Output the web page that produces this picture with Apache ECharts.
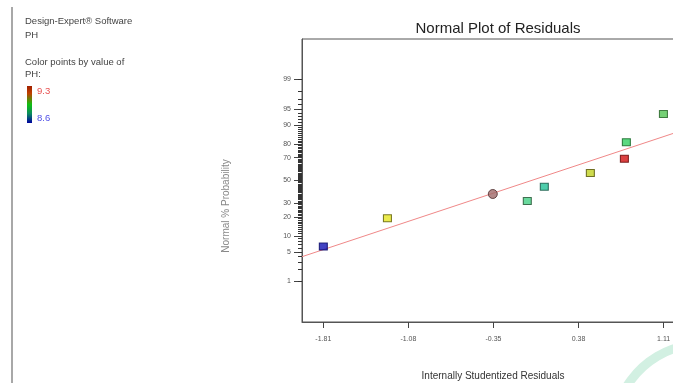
<!DOCTYPE html>
<html>
<head>
<meta charset="utf-8">
<script src="https://cdn.jsdelivr.net/npm/echarts@6/dist/echarts.min.js"></script>
<style>
html,body{margin:0;padding:0;background:#fff;overflow:hidden;width:673px;height:383px;}
#c{width:700px;height:383px;}
</style>
</head>
<body>
<div id="c"></div>
<script>
// ---- data ----
const xTickValues = [-1.81, -1.08, -0.35, 0.38, 1.11];
const yTickPercents = [1, 5, 10, 20, 30, 50, 70, 80, 90, 95, 99];
// residuals (x) and normal % probability (y) of each run
const residuals   = [-1.81, -1.26, -0.06, 0.086, 0.481, 0.773, 0.79, 1.108];
const probability = [6.4, 19.2, 31.8, 44.3, 56.9, 69.2, 81.1, 93.7];
const pointColors = ['#1414b4', '#e6e622', '#44d084', '#22c096', '#c2d222', '#d21212', '#32d062', '#52c452'];
const pointBorders = ['#000060', '#5a5a00', '#205030', '#105040', '#505000', '#600000', '#106020', '#206020'];
// multi-point marker
const centerX = [-0.356];
const centerP = [37.8];
// reference line end points
const lineX = [-1.993, 1.293];
const lineP = [3.96, 88.0];

// inverse normal CDF (Acklam)
function probit(p) {
  const a=[-3.969683028665376e+01,2.209460984245205e+02,-2.759285104469687e+02,1.383577518672690e+02,-3.066479806614716e+01,2.506628277459239e+00];
  const b=[-5.447609879822406e+01,1.615858368580409e+02,-1.556989798598866e+02,6.680131188771972e+01,-1.328068155288572e+01];
  const c=[-7.784894002430293e-03,-3.223964580411365e-01,-2.400758277161838e+00,-2.549732539343734e+00,4.374664141464968e+00,2.938163982698783e+00];
  const d=[7.784695709041462e-03,3.224671290700398e-01,2.445134137142996e+00,3.754408661907416e+00];
  const pl=0.02425, ph=1-pl; let q,r;
  if (p<pl){q=Math.sqrt(-2*Math.log(p));return (((((c[0]*q+c[1])*q+c[2])*q+c[3])*q+c[4])*q+c[5])/((((d[0]*q+d[1])*q+d[2])*q+d[3])*q+1);}
  if (p<=ph){q=p-0.5;r=q*q;return (((((a[0]*r+a[1])*r+a[2])*r+a[3])*r+a[4])*r+a[5])*q/(((((b[0]*r+b[1])*r+b[2])*r+b[3])*r+b[4])*r+1);}
  q=Math.sqrt(-2*Math.log(1-p));return -(((((c[0]*q+c[1])*q+c[2])*q+c[3])*q+c[4])*q+c[5])/((((d[0]*q+d[1])*q+d[2])*q+d[3])*q+1);
}
const z = p => probit(p/100);

const majorZ = yTickPercents.map(z);
const minorZ = [];
for (let i = 1; i <= 99; i++) minorZ.push(z(i));

const pts = residuals.map((x, i) => ({
  value: [x, z(probability[i])],
  itemStyle: { color: pointColors[i], borderColor: pointBorders[i], borderWidth: 1 }
}));

const chart = echarts.init(document.getElementById('c'), null, { renderer: 'canvas', width: 700, height: 383 });
const FONT = 'Liberation Sans, Arial, sans-serif';
const yRange = 3.26;

chart.setOption({
  animation: false,
  backgroundColor: '#ffffff',
  title: {
    text: 'Normal Plot of Residuals',
    left: 493, top: 16, textAlign: 'center',
    textStyle: { fontFamily: FONT, fontSize: 15, fontWeight: 'normal', color: '#222' }
  },
  grid: {
    left: 302, top: 39, width: 383, height: 283,
    outerBoundsMode: 'none',
    show: true, borderColor: '#555', borderWidth: 1, containLabel: false
  },
  xAxis: {
    type: 'value', min: -1.993, max: 1.293,
    axisLine: { show: true, onZero: false, lineStyle: { color: '#555' } },
    axisTick: { show: true, customValues: xTickValues, length: 6, lineStyle: { color: '#444' } },
    axisLabel: { customValues: xTickValues, margin: 14, fontSize: 7, color: '#555', fontFamily: FONT,
      formatter: v => v.toFixed(2) },
    splitLine: { show: false }
  },
  yAxis: [
    {
      type: 'value', min: -yRange, max: yRange, position: 'left',
      axisLine: { show: true, onZero: false, lineStyle: { color: '#555' } },
      axisTick: { show: true, customValues: majorZ, length: 8, lineStyle: { color: '#444' } },
      axisLabel: { customValues: majorZ, margin: 11, fontSize: 7, color: '#555', fontFamily: FONT,
        formatter: v => {
          let best = 0;
          majorZ.forEach((m, i) => { if (Math.abs(m - v) < Math.abs(majorZ[best] - v)) best = i; });
          return String(yTickPercents[best]);
        } },
      splitLine: { show: false }
    },
    {
      type: 'value', min: -yRange, max: yRange, position: 'left',
      axisLine: { show: false, onZero: false },
      axisTick: { show: true, customValues: minorZ, length: 4, lineStyle: { color: '#333' } },
      axisLabel: { show: false },
      splitLine: { show: false }
    }
  ],
  series: [
    {
      type: 'line', data: lineX.map((x, i) => [x, z(lineP[i])]),
      symbol: 'none', lineStyle: { color: '#f08888', width: 1 }, z: 1, silent: true
    },
    {
      type: 'scatter', data: pts, symbol: 'rect', symbolSize: [8, 7], z: 3
    },
    {
      type: 'scatter', data: centerX.map((x, i) => [x, z(centerP[i])]),
      symbol: 'circle', symbolSize: 9,
      itemStyle: { color: '#a06a6a', borderColor: '#4a2a2a', borderWidth: 1 }, z: 3
    }
  ],
  graphic: [
    { type: 'rect', shape: { x: 11, y: 7, width: 2, height: 380 }, style: { fill: '#a8a8a8' } },
    { type: 'text', left: 25, top: 16, style: { text: 'Design-Expert® Software', font: '9.5px ' + FONT, fill: '#444' } },
    { type: 'text', left: 25, top: 30, style: { text: 'PH', font: '9.5px ' + FONT, fill: '#444' } },
    { type: 'text', left: 25, top: 57, style: { text: 'Color points by value of', font: '9.5px ' + FONT, fill: '#444' } },
    { type: 'text', left: 25, top: 69, style: { text: 'PH:', font: '9.5px ' + FONT, fill: '#444' } },
    { type: 'rect', shape: { x: 27, y: 86, width: 5, height: 37 },
      style: { fill: new echarts.graphic.LinearGradient(0, 0, 0, 1, [
        { offset: 0, color: '#a02000' }, { offset: 0.2, color: '#c04000' },
        { offset: 0.5, color: '#10c010' }, { offset: 0.75, color: '#0a8a60' }, { offset: 1, color: '#0000a0' }]) } },
    { type: 'text', left: 37, top: 86, style: { text: '9.3', font: '9.5px ' + FONT, fill: '#e85050' } },
    { type: 'text', left: 37, top: 113, style: { text: '8.6', font: '9.5px ' + FONT, fill: '#5050e8' } },
    { type: 'text', x: 226, y: 206, rotation: Math.PI / 2,
      style: { text: 'Normal % Probability', font: '10px ' + FONT, fill: '#888', align: 'center', verticalAlign: 'middle' } },
    { type: 'text', x: 493, y: 376,
      style: { text: 'Internally Studentized Residuals', font: '10px ' + FONT, fill: '#333', align: 'center', verticalAlign: 'middle' } },
    { type: 'arc', shape: { cx: 702, cy: 432, r: 88, startAngle: Math.PI * 0.95, endAngle: Math.PI * 1.45 },
      style: { stroke: '#d2f0e2', lineWidth: 9, fill: null }, z: -1 }
  ]
});
</script>
</body>
</html>
